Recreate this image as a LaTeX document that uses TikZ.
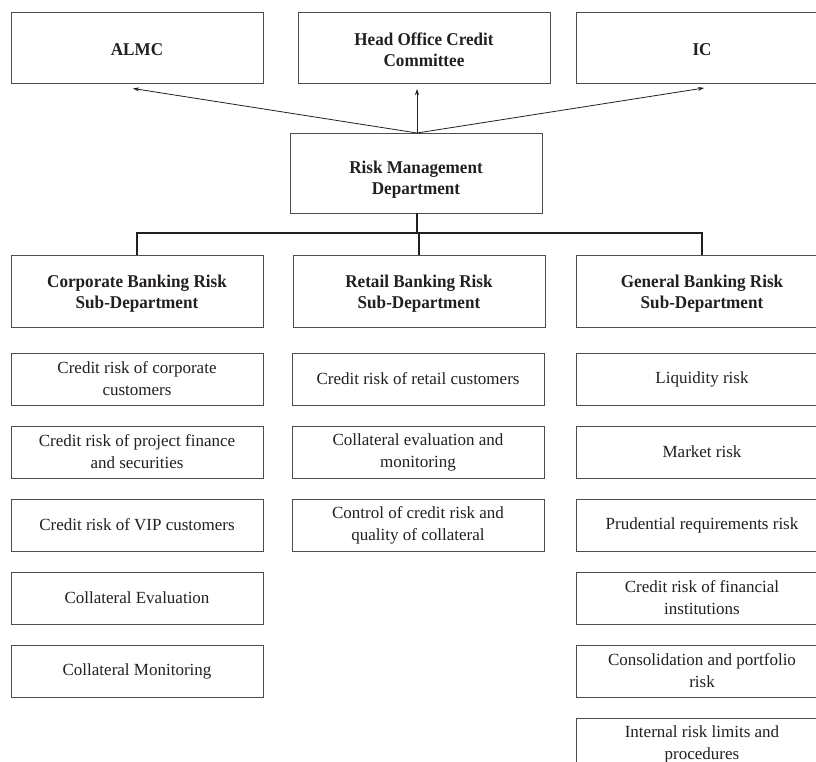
\documentclass[tikz,border=0pt]{standalone}
\usepackage{fontspec}
\setmainfont{Liberation Serif}
\newfontfamily\hdfont{Liberation Serif}[FakeStretch=0.95]
\usetikzlibrary{arrows.meta,calc}
\definecolor{ink}{HTML}{231F20}
\begin{document}
\begin{tikzpicture}[x=1pt,y=-1pt,
  box/.style={draw=ink!80, line width=0.9pt, minimum width=252pt, align=center, inner sep=0pt, text=ink},
  hd/.style={align=center, inner sep=0pt, text=ink, font=\hdfont\bfseries\fontsize{18}{21}\selectfont},
  topbox/.style={box, minimum height=71pt},
  rmbox/.style={box, minimum height=80pt},
  subbox/.style={box, minimum height=72pt},
  item/.style={box, minimum height=52pt, font=\fontsize{17}{22}\selectfont},
  arr/.style={draw=ink, line width=0.8pt, -{Stealth[length=6pt,width=4pt]}},
  tree/.style={draw=ink, line width=1.6pt}
]
\useasboundingbox (0,0) rectangle (816,762);
\clip (0,0) rectangle (816,762);
\fill[white] (0,0) rectangle (816,762);

% top row
\node[topbox, label={[hd,yshift=-2pt]center:ALMC}] (almc) at (137,47.5) {};
\node[topbox, label={[hd,yshift=-2pt]center:Head Office Credit\\Committee}] (hocc) at (424,47.5) {};
\node[topbox, label={[hd,yshift=-2pt]center:IC}] (ic) at (702,47.5) {};

% risk management
\node[rmbox, label={[hd,yshift=-7pt]center:Risk Management\\Department}] (rm) at (416,173) {};

% sub-departments
\node[subbox, label={[hd,yshift=-3pt]center:Corporate Banking Risk\\Sub-Department}] (corp) at (137,291) {};
\node[subbox, label={[hd,yshift=-3pt]center:Retail Banking Risk\\Sub-Department}] (ret) at (419,291) {};
\node[subbox, label={[hd,yshift=-3pt]center:General Banking Risk\\Sub-Department}] (gen) at (702,291) {};

% corporate items
\node[item] (c1) at (137,379) {Credit risk of corporate\\customers};
\node[item] (c2) at (137,452) {Credit risk of project finance\\and securities};
\node[item] (c3) at (137,525) {Credit risk of VIP customers};
\node[item] (c4) at (137,598) {Collateral Evaluation};
\node[item] (c5) at (137,671) {Collateral Monitoring};

% retail items
\node[item] (r1) at (418,379) {Credit risk of retail customers};
\node[item] (r2) at (418,452) {Collateral evaluation and\\monitoring};
\node[item] (r3) at (418,525) {Control of credit risk and\\quality of collateral};

% general items
\node[item] (g1) at (702,379) {Liquidity risk};
\node[item] (g2) at (702,452) {Market risk};
\node[item] (g3) at (702,525) {Prudential requirements risk};
\node[item] (g4) at (702,598) {Credit risk of financial\\institutions};
\node[item] (g5) at (702,671) {Consolidation and portfolio\\risk};
\node[item] (g6) at (702,744) {Internal risk limits and\\procedures};

% arrows up
\coordinate (almcIn) at (133,88.5);
\coordinate (hoccIn) at (417,89);
\coordinate (icIn) at (704,88);
\coordinate (rmTop) at (417,133);
\draw[arr] (rmTop) -- (almcIn);
\draw[arr] (rmTop) -- (hoccIn);
\draw[arr] (rmTop) -- (icIn);

% tree connector
\coordinate (bar) at (0,233);
\draw[tree] (rm.south -| rmTop) -- (rmTop |- bar);
\draw[tree] (corp.north) -- (corp.north |- bar) -- (gen.north |- bar) -- (gen.north);
\draw[tree] (ret.north |- bar) -- (ret.north);
\end{tikzpicture}
\end{document}
